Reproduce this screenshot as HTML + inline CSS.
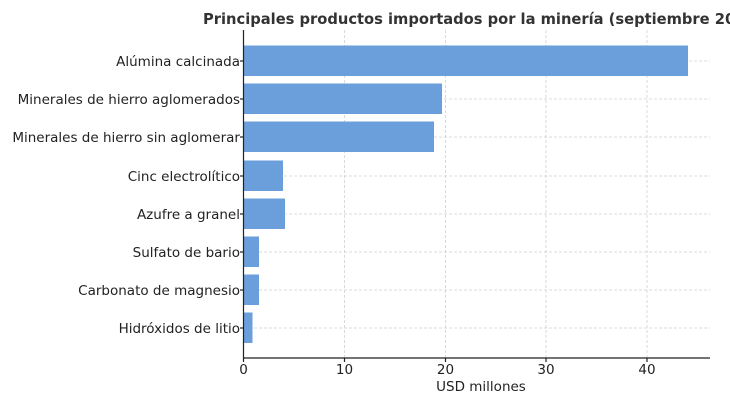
<!DOCTYPE html>
<html><head><meta charset="utf-8"><style>
html,body{margin:0;padding:0;background:#fff;width:730px;height:406px;overflow:hidden}
svg{display:block;font-family:"DejaVu Sans","Liberation Sans",sans-serif}
</style></head><body>
<svg width="730" height="406" viewBox="0 0 730 406" xmlns="http://www.w3.org/2000/svg">
<text x="203" y="24" font-size="14.7" font-weight="bold" fill="#333">Principales productos importados por la minería (septiembre 2024)</text>
<g stroke="#d0d0d0" stroke-width="0.8" stroke-dasharray="3,2">
<line x1="344.5" y1="30" x2="344.5" y2="358"/><line x1="445.5" y1="30" x2="445.5" y2="358"/>
<line x1="546" y1="30" x2="546" y2="358"/><line x1="647" y1="30" x2="647" y2="358"/>
<line x1="244" y1="61" x2="710" y2="61"/><line x1="244" y1="99" x2="710" y2="99"/>
<line x1="244" y1="137" x2="710" y2="137"/><line x1="244" y1="176" x2="710" y2="176"/>
<line x1="244" y1="214" x2="710" y2="214"/><line x1="244" y1="252" x2="710" y2="252"/>
<line x1="244" y1="290" x2="710" y2="290"/><line x1="244" y1="328" x2="710" y2="328"/>
</g>
<g fill="#6a9fdc">
<rect x="244" y="45.5" width="444" height="30.5"/>
<rect x="244" y="83.5" width="198" height="30.5"/>
<rect x="244" y="121.5" width="190" height="30.5"/>
<rect x="244" y="160.5" width="39" height="30.5"/>
<rect x="244" y="198.5" width="41" height="30.5"/>
<rect x="244" y="236.5" width="15" height="30.5"/>
<rect x="244" y="274.5" width="15" height="30.5"/>
<rect x="244" y="312.5" width="8.5" height="30.5"/>
</g>
<g stroke="#222" stroke-width="1.2">
<line x1="243.5" y1="30" x2="243.5" y2="358.5"/><line x1="243" y1="358" x2="710" y2="358"/>
<line x1="240" y1="61" x2="244" y2="61"/><line x1="240" y1="99" x2="244" y2="99"/>
<line x1="240" y1="137" x2="244" y2="137"/><line x1="240" y1="176" x2="244" y2="176"/>
<line x1="240" y1="214" x2="244" y2="214"/><line x1="240" y1="252" x2="244" y2="252"/>
<line x1="240" y1="290" x2="244" y2="290"/><line x1="240" y1="328" x2="244" y2="328"/>
<line x1="243.5" y1="358" x2="243.5" y2="362"/><line x1="344.5" y1="358" x2="344.5" y2="362"/>
<line x1="445.5" y1="358" x2="445.5" y2="362"/><line x1="546" y1="358" x2="546" y2="362"/>
<line x1="647" y1="358" x2="647" y2="362"/>
</g>
<g font-size="13.5" fill="#222" text-anchor="end">
<text x="240" y="66">Alúmina calcinada</text>
<text x="240" y="104">Minerales de hierro aglomerados</text>
<text x="240" y="142">Minerales de hierro sin aglomerar</text>
<text x="240" y="181">Cinc electrolítico</text>
<text x="240" y="219">Azufre a granel</text>
<text x="240" y="257">Sulfato de bario</text>
<text x="240" y="295">Carbonato de magnesio</text>
<text x="240" y="333">Hidróxidos de litio</text>
</g>
<g font-size="13.5" fill="#222" text-anchor="middle">
<text x="243.5" y="374">0</text><text x="344.5" y="374">10</text>
<text x="445.5" y="374">20</text><text x="546" y="374">30</text><text x="647" y="374">40</text>
<text x="481" y="391">USD millones</text>
</g>
</svg>
</body></html>
